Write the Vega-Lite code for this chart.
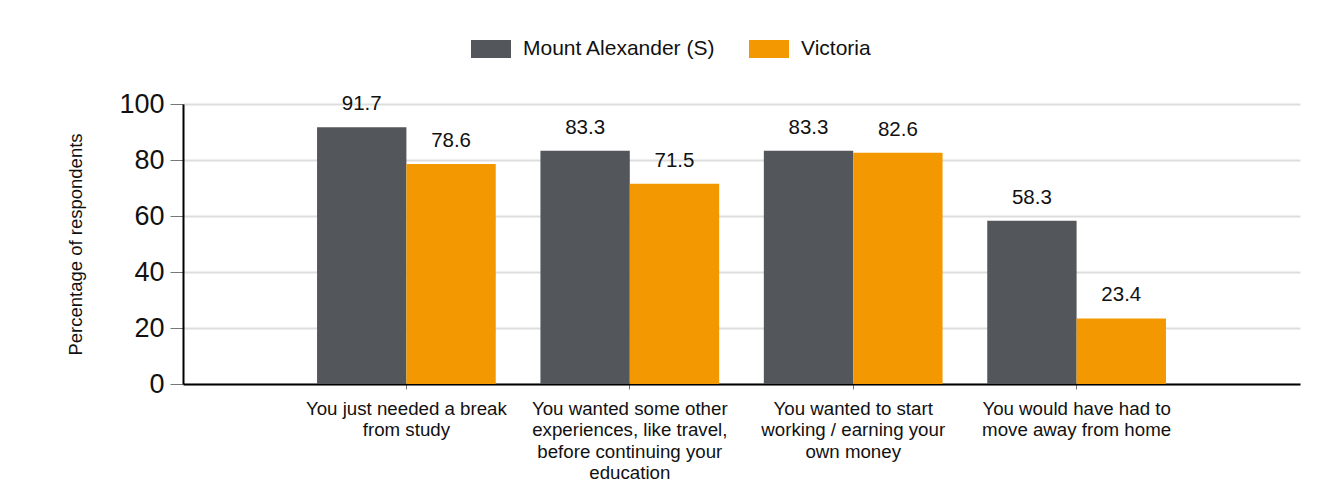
{
  "$schema": "https://vega.github.io/schema/vega-lite/v6.json",
  "width": 1117,
  "height": 280,
  "autosize": {"type": "none"},
  "padding": {"left": 183, "top": 104, "right": 36, "bottom": 119},
  "background": "white",
  "config": {
    "font": "Liberation Sans",
    "view": {"stroke": null},
    "axis": {"labelColor": "#111111", "titleColor": "#111111"}
  },
  "data": {
    "values": [
      {"category": "You just needed a break|from study", "series": "Mount Alexander (S)", "value": 91.7},
      {"category": "You just needed a break|from study", "series": "Victoria", "value": 78.6},
      {"category": "You wanted some other|experiences, like travel,|before continuing your|education", "series": "Mount Alexander (S)", "value": 83.3},
      {"category": "You wanted some other|experiences, like travel,|before continuing your|education", "series": "Victoria", "value": 71.5},
      {"category": "You wanted to start|working / earning your|own money", "series": "Mount Alexander (S)", "value": 83.3},
      {"category": "You wanted to start|working / earning your|own money", "series": "Victoria", "value": 82.6},
      {"category": "You would have had to|move away from home", "series": "Mount Alexander (S)", "value": 58.3},
      {"category": "You would have had to|move away from home", "series": "Victoria", "value": 23.4}
    ]
  },
  "encoding": {
    "x": {
      "field": "category",
      "type": "nominal",
      "sort": null,
      "scale": {"paddingInner": 0.2, "paddingOuter": 0.6},
      "axis": {
        "title": null,
        "labelAngle": 0,
        "labelExpr": "split(datum.label, '|')",
        "labelFont": "Liberation Sans",
        "labelFontSize": 18.7,
        "labelLineHeight": 21.5,
        "labelPadding": 10,
        "labelLimit": 0,
        "domainColor": "#000000",
        "domainWidth": 2,
        "tickColor": "#777777",
        "tickSize": 5,
        "grid": false
      }
    },
    "xOffset": {"field": "series", "type": "nominal", "sort": ["Mount Alexander (S)", "Victoria"]},
    "y": {
      "field": "value",
      "type": "quantitative",
      "scale": {"domain": [0, 100], "nice": false},
      "axis": {
        "title": "Percentage of respondents",
        "titleFont": "Liberation Sans",
        "titleFontSize": 18.5,
        "titleFontWeight": "normal",
        "titlePadding": 33,
        "values": [0, 20, 40, 60, 80, 100],
        "labelFont": "Liberation Sans",
        "labelFontSize": 27,
        "labelPadding": 6,
        "domainColor": "#000000",
        "domainWidth": 2,
        "tickColor": "#777777",
        "tickSize": 13,
        "gridColor": "#dddddd",
        "gridWidth": 2
      }
    }
  },
  "layer": [
    {
      "mark": {"type": "bar"},
      "encoding": {
        "color": {
          "field": "series",
          "type": "nominal",
          "scale": {"domain": ["Mount Alexander (S)", "Victoria"], "range": ["#53565A", "#F39800"]},
          "legend": {
            "title": null,
            "orient": "none",
            "direction": "horizontal",
            "legendX": 288,
            "legendY": -75,
            "symbolType": "M-1,-0.45H1V0.45H-1Z",
            "symbolSize": 1600,
            "symbolStrokeWidth": 0,
            "labelFont": "Liberation Sans",
            "labelFontSize": 21,
            "labelColor": "#111111",
            "labelOffset": 12,
            "columnPadding": 33,
            "labelLimit": 0
          }
        }
      }
    },
    {
      "mark": {"type": "text", "baseline": "alphabetic", "dy": -17, "fontSize": 20.5, "font": "Liberation Sans", "color": "#111111"},
      "encoding": {
        "text": {"field": "value", "type": "quantitative", "format": ".1f"}
      }
    }
  ]
}
